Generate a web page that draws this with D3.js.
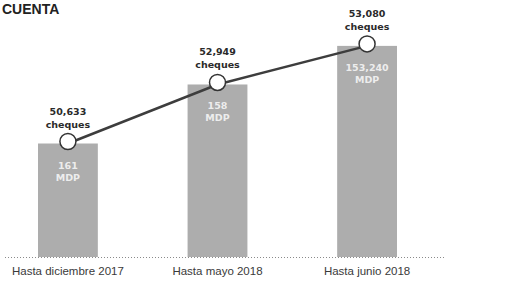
<!DOCTYPE html>
<html>
<head>
<meta charset="utf-8">
<script src="https://cdn.jsdelivr.net/npm/d3@7"></script>
<style>
    html, body { margin: 0; padding: 0; background: #fff; }
    svg { display: block; }
    .cat-label { font-family: 'Liberation Sans', Arial, sans-serif; font-size: 11.5px; fill: #3a3a3a; }
    .cheque-label { font-family: 'DejaVu Sans', Verdana, sans-serif; font-size: 9.5px; font-weight: bold; fill: #2a2a2a; }
    .bar-label { font-family: 'DejaVu Sans', Verdana, sans-serif; font-size: 9.5px; font-weight: bold; fill: #fff; fill-opacity: 0.8; }
</style>
</head>
<body>
<svg id="chart"></svg>
<script>
// Categories and values.
const categories = ['Hasta diciembre 2017', 'Hasta mayo 2018', 'Hasta junio 2018'];
const chequeLabels = ['50,633', '52,949', '53,080'];
const amountLabels = ['161', '158', '153,240'];
// Relative bar height (0-100); the line joins the bar tops.
const barLevels = [50, 76, 93];

const width = 521;
const height = 284;
const marginLeft = 38;
const marginRight = 124;
const baseY = 257;
const topY = 30;

const svg = d3.select('#chart').attr('width', width).attr('height', height);

// Heading at the very top (mostly cut off in the scan).
svg.append('text')
    .attr('x', 2)
    .attr('y', 14)
    .style('font-family', "'Liberation Sans', Arial, sans-serif")
    .style('font-size', '14px')
    .style('font-weight', 'bold')
    .style('fill', '#222')
    .text('CUENTA');

// X scale.
const x = d3
    .scaleBand()
    .domain(categories)
    .range([marginLeft, width - marginRight])
    .paddingInner(0.6)
    .paddingOuter(0);

// Y scale.
const y = d3.scaleLinear().domain([0, 100]).range([baseY, topY]);

const cx = c => x(c) + x.bandwidth() / 2;

// Bars.
svg.append('g')
    .selectAll('rect')
    .data(categories)
    .enter()
    .append('rect')
    .attr('x', c => x(c))
    .attr('y', (c, i) => y(barLevels[i]))
    .attr('width', x.bandwidth())
    .attr('height', (c, i) => y(0) - y(barLevels[i]))
    .attr('fill', '#adadad');

// Dotted baseline.
svg.append('line')
    .attr('x1', 5)
    .attr('x2', 445)
    .attr('y1', y(0) + 0.5)
    .attr('y2', y(0) + 0.5)
    .attr('stroke', '#8a8a8a')
    .attr('stroke-width', 1)
    .attr('stroke-dasharray', '1,2');

// Category labels.
svg.append('g')
    .selectAll('text')
    .data(categories)
    .enter()
    .append('text')
    .attr('class', 'cat-label')
    .attr('text-anchor', 'middle')
    .attr('x', cx)
    .attr('y', 275)
    .text(c => c);

// Amount labels inside the bars.
const inner = svg.append('g')
    .selectAll('text')
    .data(categories)
    .enter()
    .append('text')
    .attr('class', 'bar-label')
    .attr('text-anchor', 'middle');
inner.append('tspan')
    .attr('x', cx)
    .attr('y', (c, i) => y(barLevels[i]) + 25)
    .text((c, i) => amountLabels[i]);
inner.append('tspan')
    .attr('x', cx)
    .attr('y', (c, i) => y(barLevels[i]) + 37)
    .text('MDP');

// Line through the bar tops.
const line = d3.line()
    .x(d => cx(d.c))
    .y(d => y(d.v));
const pts = categories.map((c, i) => ({ c, v: barLevels[i] }));

svg.append('path')
    .datum(pts)
    .attr('d', line)
    .attr('fill', 'none')
    .attr('stroke', '#3d3d3d')
    .attr('stroke-width', 2.5);

svg.append('g')
    .selectAll('circle')
    .data(pts)
    .enter()
    .append('circle')
    .attr('cx', d => cx(d.c))
    .attr('cy', d => y(d.v) - 2)
    .attr('r', 8)
    .attr('fill', '#fff')
    .attr('stroke', '#333')
    .attr('stroke-width', 1.5);

// Cheque labels above the points.
const above = svg.append('g')
    .selectAll('text')
    .data(categories)
    .enter()
    .append('text')
    .attr('class', 'cheque-label')
    .attr('text-anchor', 'middle');
above.append('tspan')
    .attr('x', cx)
    .attr('y', (c, i) => y(barLevels[i]) - 29)
    .text((c, i) => chequeLabels[i]);
above.append('tspan')
    .attr('x', cx)
    .attr('y', (c, i) => y(barLevels[i]) - 16)
    .text('cheques');
</script>
</body>
</html>
